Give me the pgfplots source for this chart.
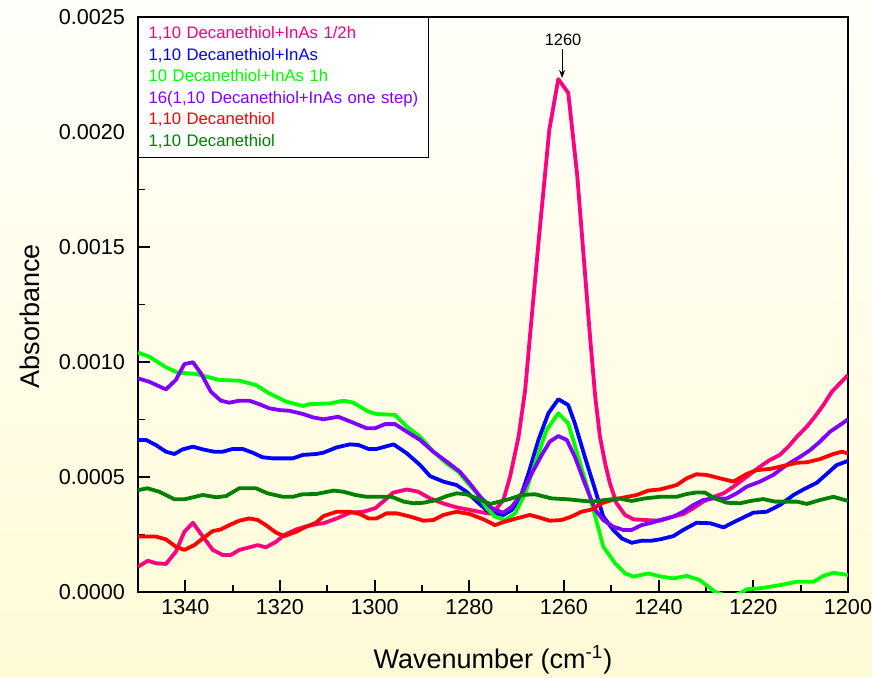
\documentclass[border=0pt]{standalone}
\usepackage{pgfplots}
\pgfplotsset{compat=1.18}
\usepackage{fontspec}
\setmainfont{Liberation Sans}
\usetikzlibrary{arrows.meta}

\definecolor{cPink}{RGB}{255,0,128}
\definecolor{cBlue}{RGB}{0,0,255}
\definecolor{cLime}{RGB}{0,255,0}
\definecolor{cViolet}{RGB}{128,0,255}
\definecolor{cRed}{RGB}{255,0,0}
\definecolor{cDkGreen}{RGB}{0,128,0}
\definecolor{bgTop}{RGB}{255,255,250}
\definecolor{bgBot}{RGB}{255,251,215}

\begin{document}
\begin{tikzpicture}

% page background gradient
\shade[top color=bgTop, bottom color=bgBot] (-69pt,-42.5pt) rectangle (367pt,296pt);

\begin{axis}[
    at={(0,0)}, anchor=south west,
    scale only axis,
    width=355pt, height=287.5pt,
    xmin=1200, xmax=1350, x dir=reverse,
    ymin=0, ymax=0.0025,
    xtick={1200,1220,1240,1260,1280,1300,1320,1340},
    minor xtick={1210,1230,1250,1270,1290,1310,1330},
    ytick={0,0.0005,0.001,0.0015,0.002,0.0025},
    minor y tick num=1,
    tick align=inside, tick pos=left,
    major tick length=6pt, minor tick length=3.5pt,
    every tick/.style={black, line width=0.9pt},
    axis line style={line width=0.9pt},
    scaled y ticks=false,
    /pgf/number format/assume math mode=true,
    /pgf/number format/set thousands separator={},
    yticklabel style={xshift=-3pt,
        /pgf/number format/fixed,
        /pgf/number format/fixed zerofill,
        /pgf/number format/precision=4},
    ticklabel style={font=\fontsize{10.8}{13}\selectfont},
    xlabel={Wavenumber (cm\textsuperscript{-1})},
    ylabel={Absorbance},
    label style={font=\fontsize{13.5}{16}\selectfont},
    xlabel style={at={(axis description cs:0.5,-0.118)}, anchor=center},
    ylabel style={at={(axis description cs:-0.152,0.48)}, anchor=center},
    every axis plot/.append style={line width=1.9pt, line join=round, no markers},
]

% 1,10 Decanethiol+InAs 1/2h
\addplot[cPink] coordinates {
(1350,0.000110)(1347.9,0.000136)(1346.2,0.000125)(1344.1,0.000122)(1342,0.000175)(1340.2,0.000262)
(1338.4,0.000301)(1336.3,0.000241)(1334.2,0.000183)(1332.1,0.000161)(1330.4,0.000161)(1328.6,0.000183)
(1326.5,0.000194)(1324.7,0.000204)(1323,0.000194)(1320.8,0.000219)(1319.1,0.000248)(1316.6,0.000272)
(1314.5,0.000285)(1312.4,0.000295)(1310.8,0.000299)(1308,0.000320)(1305.2,0.000345)(1302.4,0.000349)
(1299.9,0.000364)(1298.2,0.000393)(1296.1,0.000432)(1293.2,0.000446)(1290.8,0.000436)(1288.3,0.000407)
(1285.5,0.000385)(1282.7,0.000368)(1279.9,0.000357)(1277,0.000345)(1275.2,0.000340)(1272.8,0.000400)
(1271.4,0.000501)(1269.6,0.000675)(1268.2,0.000878)(1267.2,0.00111)(1265.2,0.00156)(1263.1,0.00201)
(1261.2,0.00223)(1259.1,0.00217)(1257.2,0.00181)(1254.5,0.00111)(1253.4,0.000849)(1252.4,0.000675)
(1251.3,0.000559)(1250.3,0.000472)(1248.9,0.000386)(1247.1,0.000335)(1245.3,0.000316)(1242.9,0.000313)
(1239.7,0.000310)(1236.9,0.000328)(1234.8,0.000339)(1232.7,0.000364)(1230.6,0.000393)(1228.4,0.000414)
(1226.3,0.000429)(1224.2,0.000458)(1221.4,0.000501)(1218.6,0.000545)(1216.5,0.000574)(1214.4,0.000596)
(1212.6,0.000632)(1210.8,0.000675)(1208.7,0.000719)(1207,0.000762)(1205.2,0.000813)(1203.4,0.000871)
(1201.7,0.000907)(1200,0.000943)
};

% 1,10 Decanethiol+InAs
\addplot[cBlue] coordinates {
(1350,0.000661)(1348.3,0.000661)(1346.2,0.000639)(1344.1,0.000610)(1342.3,0.000600)(1340.6,0.000620)
(1338.4,0.000632)(1336.3,0.000620)(1333.9,0.000610)(1332.1,0.000610)(1330,0.000622)(1327.9,0.000622)
(1325.8,0.000606)(1323.7,0.000586)(1321.5,0.000581)(1319.4,0.000581)(1317.3,0.000581)(1315.2,0.000596)
(1312.4,0.000600)(1310.8,0.000606)(1308,0.000629)(1305.2,0.000642)(1303.4,0.000639)(1301.3,0.000622)
(1299.6,0.000622)(1296,0.000642)(1293.2,0.000603)(1290.4,0.000552)(1288.3,0.000504)(1285.5,0.000480)
(1282.7,0.000465)(1280.6,0.000436)(1278.4,0.000393)(1276.3,0.000355)(1274.6,0.000340)(1272.8,0.000335)
(1271,0.000357)(1269.3,0.000407)(1267.5,0.000516)(1265.4,0.000661)(1263.3,0.000777)(1261.2,0.000838)
(1259.1,0.000813)(1257.7,0.000733)(1255.6,0.000588)(1253.4,0.000443)(1251.7,0.000328)(1249.6,0.000270)
(1247.8,0.000233)(1245.7,0.000214)(1243.6,0.000223)(1241.5,0.000223)(1239.7,0.000229)(1236.9,0.000243)
(1234.8,0.000270)(1232,0.000301)(1229.1,0.000299)(1226.3,0.000281)(1223.5,0.000310)(1220,0.000345)
(1217.2,0.000349)(1214.4,0.000378)(1211.5,0.000422)(1209.4,0.000446)(1206.6,0.000475)(1204.5,0.000513)
(1202.4,0.000552)(1200,0.000570)
};

% 10 Decanethiol+InAs 1h
\addplot[cLime] coordinates {
(1350,0.001041)(1347.6,0.001023)(1344.1,0.000977)(1341.6,0.000954)(1337.7,0.000948)(1332.8,0.000922)
(1328.6,0.000919)(1325.1,0.000900)(1322.3,0.000864)(1318.7,0.000828)(1315.2,0.000809)(1313.7,0.000817)
(1309.4,0.000820)(1306.6,0.000832)(1304.5,0.000823)(1301.3,0.000784)(1299.6,0.000774)(1295.7,0.000770)
(1293.2,0.000719)(1290.4,0.000675)(1287.6,0.000610)(1284.8,0.000559)(1282.3,0.000523)(1280.6,0.000480)
(1278.4,0.000429)(1276.3,0.000364)(1274.6,0.000328)(1272.5,0.000313)(1270.3,0.000342)(1268.2,0.000429)
(1266.1,0.000559)(1263.7,0.000704)(1261.2,0.000777)(1259.1,0.000733)(1257,0.000588)(1254.9,0.000443)
(1253.4,0.000328)(1251.7,0.000197)(1249.2,0.000125)(1247.1,0.000081)(1245.3,0.000067)(1242.2,0.000081)
(1239.7,0.000068)(1236.9,0.000059)(1234.1,0.000070)(1231.3,0.000052)(1229.5,0.000023)(1228.1,0.000001)
(1226,-0.000015)(1224,-0.000015)(1222.5,-0.000002)(1221.4,0.000012)(1218.6,0.000016)(1214.4,0.000030)
(1210.8,0.000045)(1207.3,0.000045)(1205.2,0.000070)(1203.1,0.000084)(1200,0.000074)
};

% 16(1,10 Decanethiol+InAs one step)
\addplot[cViolet] coordinates {
(1350,0.000929)(1347.6,0.000914)(1344.1,0.000881)(1342,0.000922)(1340.2,0.000991)(1338.4,0.000999)
(1336.7,0.000951)(1334.6,0.000871)(1332.5,0.000832)(1330.7,0.000823)(1328.6,0.000832)(1326.5,0.000832)
(1324.4,0.000817)(1322.3,0.000799)(1320.1,0.000791)(1318,0.000788)(1315.2,0.000774)(1313,0.000759)
(1310.8,0.000751)(1307.7,0.000762)(1304.5,0.000736)(1301.7,0.000712)(1299.9,0.000712)(1297.8,0.000730)
(1295.7,0.000730)(1293.2,0.000697)(1290.4,0.000661)(1287.6,0.000610)(1284.8,0.000567)(1282,0.000523)
(1279.9,0.000472)(1277.7,0.000414)(1275.6,0.000371)(1274.6,0.000357)(1272.8,0.000345)(1271,0.000371)
(1268.9,0.000429)(1266.8,0.000516)(1264.7,0.000596)(1263,0.000654)(1261.2,0.000678)(1259.4,0.000661)
(1257.7,0.000588)(1255.6,0.000472)(1253.4,0.000357)(1251.7,0.000313)(1249.6,0.000284)(1247.5,0.000270)
(1245.7,0.000270)(1243.6,0.000291)(1241.5,0.000301)(1239.7,0.000313)(1236.9,0.000328)(1234.8,0.000349)
(1232.7,0.000378)(1230.6,0.000400)(1228.4,0.000407)(1225.6,0.000407)(1223.5,0.000429)(1221.4,0.000458)
(1218.6,0.000480)(1215.8,0.000509)(1213,0.000552)(1210.1,0.000588)(1208,0.000617)(1205.9,0.000654)
(1203.8,0.000697)(1201.7,0.000726)(1200,0.000751)
};

% 1,10 Decanethiol (red)
\addplot[cRed] coordinates {
(1350,0.000241)(1346.2,0.000241)(1344.1,0.000229)(1342,0.000197)(1340.2,0.000183)(1338.1,0.000204)
(1336.3,0.000233)(1334.2,0.000265)(1332.5,0.000272)(1330.7,0.000291)(1328.6,0.000310)(1326.5,0.000320)
(1324.7,0.000313)(1323,0.000291)(1320.8,0.000258)(1319.1,0.000243)(1316.6,0.000262)(1314.5,0.000284)
(1312.4,0.000301)(1310.8,0.000330)(1308,0.000349)(1305.2,0.000349)(1303.1,0.000339)(1301.3,0.000320)
(1299.6,0.000320)(1297.5,0.000342)(1295.3,0.000342)(1292.5,0.000328)(1289.7,0.000310)(1287.6,0.000313)
(1285.5,0.000335)(1282.7,0.000349)(1279.9,0.000339)(1277,0.000316)(1274.6,0.000291)(1272.5,0.000306)
(1270,0.000320)(1267.2,0.000335)(1265.4,0.000325)(1263,0.000310)(1260.5,0.000313)(1258.4,0.000328)
(1256.3,0.000349)(1254.1,0.000359)(1252,0.000386)(1249.9,0.000400)(1247.1,0.000412)(1244.6,0.000422)
(1242.2,0.000441)(1239.7,0.000446)(1236.2,0.000465)(1234.1,0.000494)(1232,0.000512)(1229.9,0.000509)
(1227,0.000494)(1224.2,0.000480)(1221.4,0.000513)(1219.3,0.000530)(1216.5,0.000535)(1213.7,0.000548)
(1210.8,0.000562)(1208.7,0.000564)(1205.9,0.000578)(1203.1,0.000600)(1201.3,0.000610)(1200,0.000603)
};

% 1,10 Decanethiol (dark green)
\addplot[cDkGreen] coordinates {
(1350,0.000443)(1348,0.000451)(1345.5,0.000436)(1342.3,0.000403)(1340.2,0.000403)(1336.3,0.000422)
(1333.5,0.000412)(1331.4,0.000417)(1328.6,0.000451)(1325.1,0.000451)(1322.6,0.000429)(1319.4,0.000414)
(1317.3,0.000414)(1315.2,0.000425)(1312.4,0.000426)(1308.7,0.000441)(1306.6,0.000436)(1304.1,0.000422)
(1301.7,0.000414)(1296.4,0.000414)(1293.9,0.000393)(1291.8,0.000386)(1289.7,0.000388)(1286.9,0.000400)
(1284.8,0.000417)(1282.7,0.000429)(1280.6,0.000425)(1278.4,0.000407)(1275.6,0.000383)(1274.6,0.000388)
(1271.7,0.000403)(1268.9,0.000422)(1266.1,0.000425)(1262.6,0.000407)(1259.1,0.000403)(1256.3,0.000397)
(1254.1,0.000393)(1251.3,0.000400)(1248.5,0.000407)(1245.7,0.000396)(1242.9,0.000407)(1239.7,0.000414)
(1236.2,0.000414)(1234.1,0.000426)(1232,0.000433)(1230.2,0.000432)(1228.1,0.000407)(1225.6,0.000388)
(1222.8,0.000386)(1220.3,0.000397)(1217.9,0.000404)(1215.4,0.000393)(1213,0.000393)(1210.8,0.000393)
(1208.7,0.000383)(1205.9,0.000400)(1203.1,0.000414)(1200,0.000396)
};

% peak annotation
\node[font=\fontsize{8.2}{10}\selectfont] at (axis cs:1260.2,0.0024) {1260};
\draw[-{Stealth[length=4pt,width=3pt]}, line width=0.6pt]
    (axis cs:1260.4,0.00236) -- (axis cs:1260.4,0.002235);

% legend box (text only, coloured)
\node[draw=black, line width=0.6pt, fill=white, anchor=north west,
      inner xsep=5pt, inner ysep=0pt, text width=135pt, minimum height=70pt,
      align=left, font=\fontsize{8.35}{10.8}\selectfont]
    at (rel axis cs:0,1) {%
    \textcolor{cPink}{1,10 Decanethiol+InAs 1/2h}\\
    \textcolor{cBlue}{1,10 Decanethiol+InAs}\\
    \textcolor{cLime}{10 Decanethiol+InAs 1h}\\
    \textcolor{cViolet}{16(1,10 Decanethiol+InAs one step)}\\
    \textcolor{cRed}{1,10 Decanethiol}\\
    \textcolor{cDkGreen}{1,10 Decanethiol}};

\end{axis}

% page size = background rectangle
\pgfresetboundingbox
\path[use as bounding box] (-69pt,-42.5pt) rectangle (367pt,296pt);
\end{tikzpicture}
\end{document}
